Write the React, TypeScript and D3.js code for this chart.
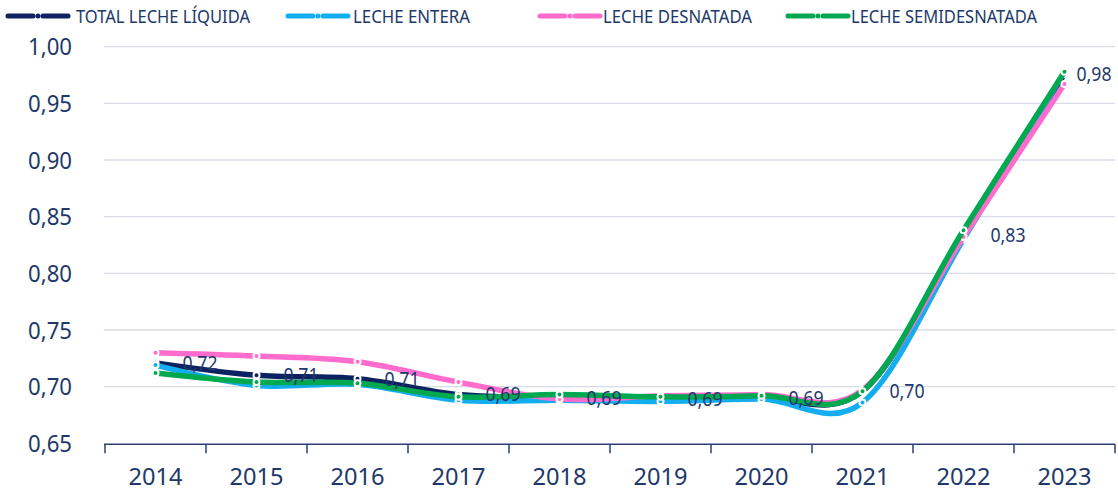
import React from 'react';
import * as d3 from 'd3';

// datos
const years = ['2014', '2015', '2016', '2017', '2018', '2019', '2020', '2021', '2022', '2023'];
const total = [0.721, 0.710, 0.707, 0.693, 0.690, 0.689, 0.690, 0.696, 0.834, 0.976];
const entera = [0.719, 0.701, 0.702, 0.688, 0.688, 0.687, 0.689, 0.686, 0.830, 0.978];
const desnatada = [0.730, 0.727, 0.722, 0.704, 0.689, 0.692, 0.693, 0.697, 0.832, 0.967];
const semidesnatada = [0.712, 0.704, 0.703, 0.691, 0.693, 0.691, 0.692, 0.696, 0.838, 0.978];
const yTicks = [0.65, 0.70, 0.75, 0.80, 0.85, 0.90, 0.95, 1.00];

const series = [
  { name: 'TOTAL LECHE LÍQUIDA', values: total, color: '#0c2261' },
  { name: 'LECHE ENTERA', values: entera, color: '#14aef0' },
  { name: 'LECHE DESNATADA', values: desnatada, color: '#ff6ccd' },
  { name: 'LECHE SEMIDESNATADA', values: semidesnatada, color: '#00a84f' },
];

const W = 1118;
const H = 493;
const FONT = '"Noto Sans", "Open Sans", sans-serif';
const TXT = '#21386a';

// posiciones de la leyenda (línea y texto)
const legendLayout = [
  { x: 8, tx: 76, tw: 174 },
  { x: 288, tx: 353, tw: 117 },
  { x: 540, tx: 603, tw: 149 },
  { x: 788, tx: 851, tw: 186 },
];
const labelDx = [27, 27, 27, 27, 27, 27, 27, 27, 27, 12];

const fmt = (v: number) => v.toFixed(2).replace('.', ',');

export default function App() {
  const x = d3.scaleBand<string>().domain(years).range([105, 1115]);
  const y = d3.scaleLinear().domain([0.65, 1.0]).range([443.3, 46.7]);
  const cx = (d: string) => (x(d) as number) + x.bandwidth() / 2;

  const line = d3.line<number>()
    .x((_, i) => cx(years[i]))
    .y((v) => y(v))
    .curve(d3.curveCardinal.tension(0));

  const ticksX = years.map((d) => x(d) as number).concat([x.range()[1]]);

  return (
    <div style={{ position: 'absolute', left: 0, top: 0 }}>
      <svg width={W} height={H} style={{ display: 'block', background: '#fff' }} fontFamily={FONT}>
        {/* rejilla */}
        {yTicks.slice(1).map((t) => (
          <line key={t} x1={104} x2={1115} y1={y(t)} y2={y(t)} stroke="#d8dce7" strokeWidth={1.3} />
        ))}
        {/* eje x */}
        <line x1={104} x2={1115} y1={y(0.65) + 1} y2={y(0.65) + 1} stroke="#2a3f72" strokeWidth={1.5} />
        {ticksX.map((t, i) => (
          <line key={i} x1={t} x2={t} y1={y(0.65) + 1} y2={y(0.65) + 10} stroke="#2a3f72" strokeWidth={1.5} />
        ))}
        {years.map((d) => (
          <text key={d} x={cx(d)} y={485} textAnchor="middle" fontSize={23} fill={TXT}
            textLength={54} lengthAdjust="spacingAndGlyphs">{d}</text>
        ))}
        {/* eje y */}
        {yTicks.map((t) => (
          <text key={t} x={72} y={y(t)} dy="0.36em" textAnchor="end" fontSize={24} fill={TXT}
            textLength={44} lengthAdjust="spacingAndGlyphs">{fmt(t)}</text>
        ))}
        {/* series */}
        {series.map((s) => (
          <g key={s.name}>
            <path d={line(s.values) || ''} fill="none" stroke={s.color} strokeWidth={5.5} strokeLinecap="round" />
            {s.values.map((v, i) => (
              <circle key={i} cx={cx(years[i])} cy={y(v)} r={3} fill={s.color} stroke="#fff" strokeWidth={2} />
            ))}
          </g>
        ))}
        {/* etiquetas de datos */}
        {total.map((v, i) => (
          <text key={i} x={cx(years[i]) + labelDx[i]} y={y(v)} dy="0.36em" fontSize={19} fill={TXT}
            textLength={35} lengthAdjust="spacingAndGlyphs">{fmt(v)}</text>
        ))}
        {/* leyenda */}
        {series.map((s, i) => {
          const L = legendLayout[i];
          return (
            <g key={s.name}>
              <line x1={L.x} x2={L.x + 25} y1={16} y2={16} stroke={s.color} strokeWidth={5} strokeLinecap="round" />
              <line x1={L.x + 35} x2={L.x + 60} y1={16} y2={16} stroke={s.color} strokeWidth={5} strokeLinecap="round" />
              <circle cx={L.x + 30} cy={16} r={2.5} fill={s.color} />
              <text x={L.tx} y={16} dy="0.36em" fontSize={18.5} fill={TXT}
                textLength={L.tw} lengthAdjust="spacingAndGlyphs">{s.name}</text>
            </g>
          );
        })}
      </svg>
    </div>
  );
}
